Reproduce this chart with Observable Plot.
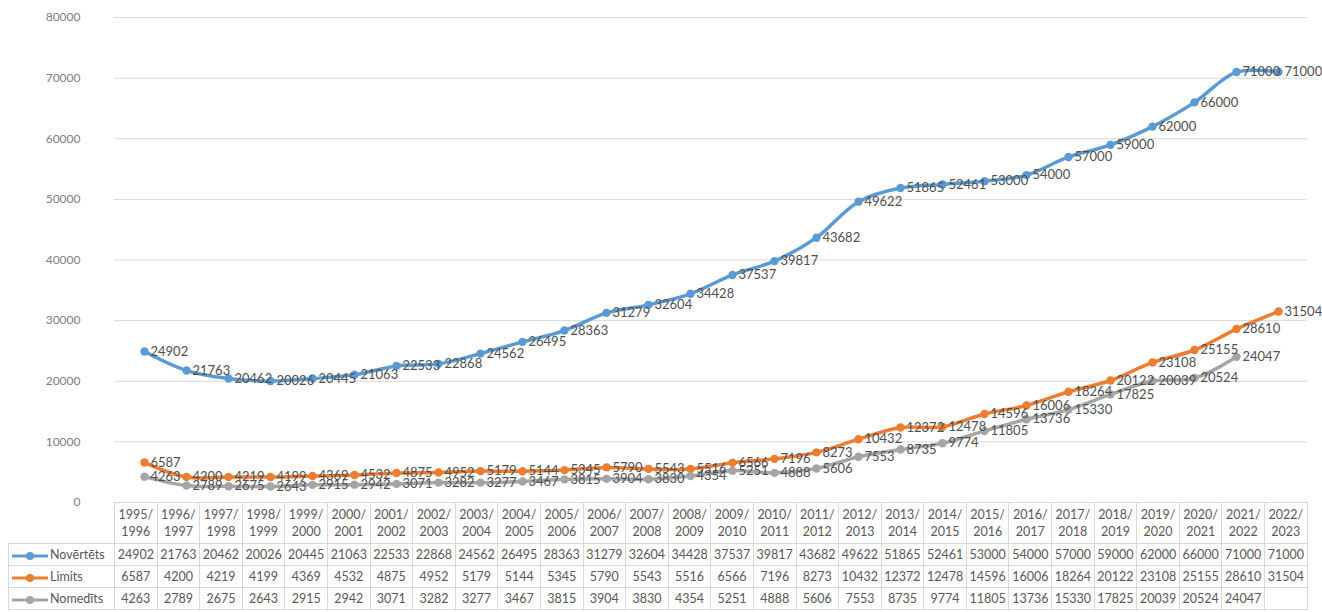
<!DOCTYPE html>
<html>
<head>
<meta charset="utf-8">
<script src="https://cdn.jsdelivr.net/npm/d3@7"></script>
<script src="https://cdn.jsdelivr.net/npm/@observablehq/plot@0.6"></script>
<style>
  html, body { margin: 0; padding: 0; background: #fff; }
  #wrap { position: relative; width: 1322px; height: 612px; overflow: hidden; font-family: Lato, "Open Sans", sans-serif; }
  #chart svg { overflow: visible; display: block; }
  #tbl { position: absolute; left: 8px; top: 502px; border-collapse: collapse; table-layout: fixed; font-family: Lato, sans-serif; font-size: 12.5px; color: #595959; }
  #tbl td { border: 1px solid #d9d9d9; padding: 0; text-align: center; white-space: nowrap; overflow: visible; }
  #tbl tr.head td { height: 40px; line-height: 17px; }
  #tbl tr.row td { height: 21px; }
  #tbl td.blank { border: none; }
  #tbl td.rh { text-align: left; padding-left: 2px; }
  .swatch { display: inline-block; vertical-align: middle; width: 38px; height: 10px; margin-right: 1px; }
</style>
</head>
<body>
<div id="wrap">
  <div id="chart"></div>
  <table id="tbl"></table>
</div>
<script>
const categories = ["1995/1996","1996/1997","1997/1998","1998/1999","1999/2000","2000/2001","2001/2002","2002/2003","2003/2004","2004/2005","2005/2006","2006/2007","2007/2008","2008/2009","2009/2010","2010/2011","2011/2012","2012/2013","2013/2014","2014/2015","2015/2016","2016/2017","2017/2018","2018/2019","2019/2020","2020/2021","2021/2022","2022/2023"];
const novertets = [24902,21763,20462,20026,20445,21063,22533,22868,24562,26495,28363,31279,32604,34428,37537,39817,43682,49622,51865,52461,53000,54000,57000,59000,62000,66000,71000,71000];
const limits = [6587,4200,4219,4199,4369,4532,4875,4952,5179,5144,5345,5790,5543,5516,6566,7196,8273,10432,12372,12478,14596,16006,18264,20122,23108,25155,28610,31504];
const nomedits = [4263,2789,2675,2643,2915,2942,3071,3282,3277,3467,3815,3904,3830,4354,5251,4888,5606,7553,8735,9774,11805,13736,15330,17825,20039,20524,24047,null];
const seriesNames = ["Novērtēts","Limits","Nomedīts"];
const seriesColors = ["#5B9BD5","#ED7D31","#A5A5A5"];
const yTicks = [0,10000,20000,30000,40000,50000,60000,70000,80000];

const seriesValues = [novertets, limits, nomedits];
const data = [];
seriesValues.forEach((vals, si) => {
  vals.forEach((v, i) => {
    if (v != null) data.push({series: seriesNames[si], cat: categories[i], value: v});
  });
});

const marks = [
  Plot.gridY(yTicks, {stroke: "#d9d9d9", strokeOpacity: 1, strokeWidth: 1}),
  Plot.axisY(yTicks, {tickSize: 0, tickPadding: 34, fontSize: 12, fill: "#808080", label: null, tickFormat: d => String(d), fontFamily: "Lato, sans-serif"})
];
seriesNames.forEach((name, si) => {
  const d = data.filter(r => r.series === name);
  marks.push(Plot.line(d, {x: "cat", y: "value", stroke: seriesColors[si], strokeWidth: 3.5, curve: "catmull-rom"}));
  marks.push(Plot.dot(d, {x: "cat", y: "value", fill: seriesColors[si], r: 4.2}));
});
seriesNames.forEach((name, si) => {
  const d = data.filter(r => r.series === name);
  marks.push(Plot.text(d, {x: "cat", y: "value", text: r => String(r.value), textAnchor: "start", dx: 6, fill: "#505050", fontSize: 13, fontFamily: "Lato, sans-serif"}));
});

const chart = Plot.plot({
  width: 1322,
  height: 503,
  marginLeft: 114,
  marginRight: 15,
  marginTop: 17,
  marginBottom: 1,
  x: {type: "point", domain: categories, padding: 0.5, axis: null},
  y: {domain: [0, 80000], axis: null, label: null},
  style: {background: "transparent", overflow: "visible"},
  marks
});
document.getElementById("chart").appendChild(chart);

// Data table below the chart
const tbl = document.getElementById("tbl");
const colgroup = document.createElement("colgroup");
const c0 = document.createElement("col"); c0.style.width = "106px"; colgroup.appendChild(c0);
const colW = (1307 - 114) / categories.length;
categories.forEach(() => { const c = document.createElement("col"); c.style.width = colW + "px"; colgroup.appendChild(c); });
tbl.appendChild(colgroup);
tbl.style.width = (106 + colW * categories.length) + "px";

const head = document.createElement("tr"); head.className = "head";
const blank = document.createElement("td"); blank.className = "blank"; head.appendChild(blank);
categories.forEach(c => {
  const td = document.createElement("td");
  const parts = c.split("/");
  td.innerHTML = parts[0] + "/<br>" + parts[1];
  head.appendChild(td);
});
tbl.appendChild(head);

seriesValues.forEach((vals, si) => {
  const tr = document.createElement("tr"); tr.className = "row";
  const th = document.createElement("td"); th.className = "rh";
  const sw = document.createElementNS("http://www.w3.org/2000/svg", "svg");
  sw.setAttribute("width", "38"); sw.setAttribute("height", "10"); sw.setAttribute("class", "swatch");
  sw.innerHTML = `<line x1="1" x2="37" y1="5" y2="5" stroke="${seriesColors[si]}" stroke-width="3"/><circle cx="19" cy="5" r="4" fill="${seriesColors[si]}"/>`;
  th.appendChild(sw);
  th.appendChild(document.createTextNode(seriesNames[si]));
  tr.appendChild(th);
  vals.forEach(v => {
    const td = document.createElement("td");
    td.textContent = v == null ? "" : String(v);
    tr.appendChild(td);
  });
  tbl.appendChild(tr);
});
</script>
</body>
</html>
